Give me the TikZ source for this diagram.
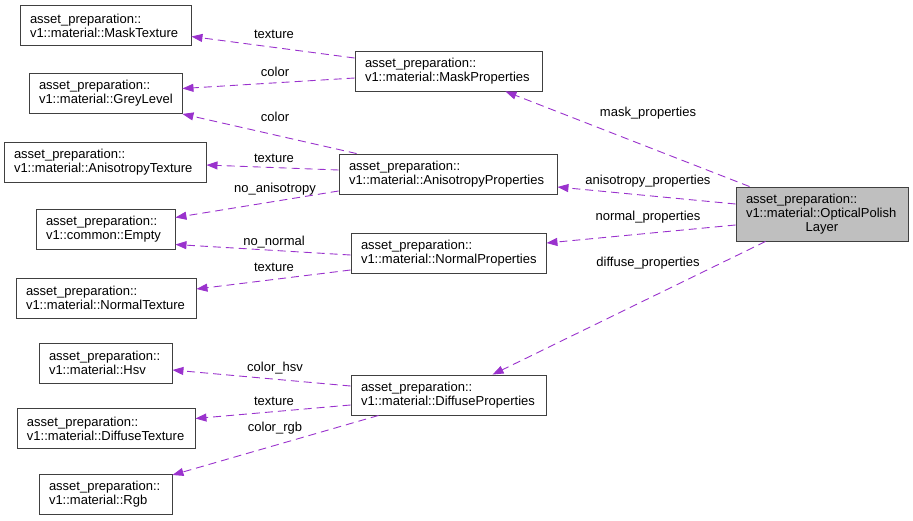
\documentclass[tikz,border=0pt]{standalone}
\usepackage{fontspec}
\setmainfont{Liberation Sans}
\usetikzlibrary{calc,arrows.meta}

\definecolor{orchid}{HTML}{9A32CD}
\definecolor{selgray}{HTML}{BFBFBF}

\begin{document}
\begin{tikzpicture}[x=1pt,y=-1pt,
	cls/.style={draw=black!75, line width=0.9pt, fill=white, text width=#1,
		inner xsep=10pt, inner ysep=0pt, minimum height=40pt, align=left,
		font=\fontsize{13}{14}\selectfont},
	edge/.style={draw=orchid, line width=0.9pt, dash pattern=on 8pt off 5pt,
		-{Triangle[length=11pt,width=8pt]}},
	lbl/.style={font=\fontsize{13}{14}\selectfont, inner sep=0pt}]

	% ---- frame

	\useasboundingbox (0,0) rectangle (913,520);

	% ---- left column

	\node[cls=151] (mtex) at (105.5,25.5) {asset\_preparation::\\v1::material::MaskTexture};
	\node[cls=133] (grey) at (105.5,93.5) {asset\_preparation::\\v1::material::GreyLevel};
	\node[cls=182] (atex) at (105,162) {asset\_preparation::\\v1::material::AnisotropyTexture};
	\node[cls=119] (empty) at (105.5,229.5) {asset\_preparation::\\v1::common::Empty};
	\node[cls=160] (ntex) at (106,298) {asset\_preparation::\\v1::material::NormalTexture};
	\node[cls=113] (hsv) at (105.5,363) {asset\_preparation::\\v1::material::Hsv};
	\node[cls=158] (dtex) at (106,428.5) {asset\_preparation::\\v1::material::DiffuseTexture};
	\node[cls=113] (rgb) at (105.5,494) {asset\_preparation::\\v1::material::Rgb};

	% ---- middle column

	\node[cls=167] (mprop) at (448.5,71) {asset\_preparation::\\v1::material::MaskProperties};
	\node[cls=198] (aprop) at (448,174) {asset\_preparation::\\v1::material::AnisotropyProperties};
	\node[cls=175] (nprop) at (448.5,253) {asset\_preparation::\\v1::material::NormalProperties};
	\node[cls=175] (dprop) at (448.5,395) {asset\_preparation::\\v1::material::DiffuseProperties};

	% ---- layer

	\node[cls=152, fill=selgray, minimum height=54pt] (opl) at (822,214)
		{asset\_preparation::\\v1::material::OpticalPolish\\\makebox[\linewidth][c]{Layer}};

	% ---- edges from the layer

	\draw[edge] ($(opl.north west)+(14,0)$) -- ($(mprop.south east)+(-37,0)$);
	\draw[edge] ($(opl.west)+(0,-10)$) -- ($(aprop.east)+(0,13)$);
	\draw[edge] ($(opl.west)+(0,11)$) -- ($(nprop.east)+(0,-10)$);
	\draw[edge] ($(opl.south west)+(30,0)$) -- ($(dprop.north west)+(142,0)$);

	% ---- edges from the properties

	\draw[edge] ($(mprop.west)+(0,-13)$) -- ($(mtex.east)+(0,11)$);
	\draw[edge] ($(mprop.west)+(0,7)$) -- ($(grey.east)+(0,-5)$);
	\draw[edge] ($(aprop.north west)+(18,0)$) -- (grey.south east);
	\draw[edge] ($(aprop.west)+(0,-4)$) -- ($(atex.east)+(0,3)$);
	\draw[edge] ($(aprop.west)+(0,17)$) -- ($(empty.east)+(0,-12)$);
	\draw[edge] ($(nprop.west)+(0,2)$) -- ($(empty.east)+(0,15)$);
	\draw[edge] ($(nprop.west)+(0,17)$) -- ($(ntex.east)+(0,-9)$);
	\draw[edge] ($(dprop.west)+(0,-9)$) -- ($(hsv.east)+(0,7)$);
	\draw[edge] ($(dprop.west)+(0,10)$) -- ($(dtex.east)+(0,-10)$);
	\draw[edge] ($(dprop.south west)+(28,0)$) -- ($(rgb.east)+(0,-19)$);

	% ---- edge labels

	\node[lbl] (lmtex) at (274,34) {texture};
	\node[lbl] (lmgrey) at (275,72) {color};
	\node[lbl] (lagrey) at (275,117) {color};
	\node[lbl] (latex) at (274,158) {texture};
	\node[lbl] (laempty) at (275,189) {no\_anisotropy};
	\node[lbl] (lnempty) at (274,242) {no\_normal};
	\node[lbl] (lntex) at (274,267) {texture};
	\node[lbl] (lmprop) at (648,113) {mask\_properties};
	\node[lbl] (laprop) at (648,181) {anisotropy\_properties};
	\node[lbl] (lnprop) at (648,217) {normal\_properties};
	\node[lbl] (ldprop) at (648,263) {diffuse\_properties};
	\node[lbl] (lhsv) at (275,368) {color\_hsv};
	\node[lbl] (ldtex) at (274,401) {texture};
	\node[lbl] (lrgb) at (275,428) {color\_rgb};

\end{tikzpicture}
\end{document}
